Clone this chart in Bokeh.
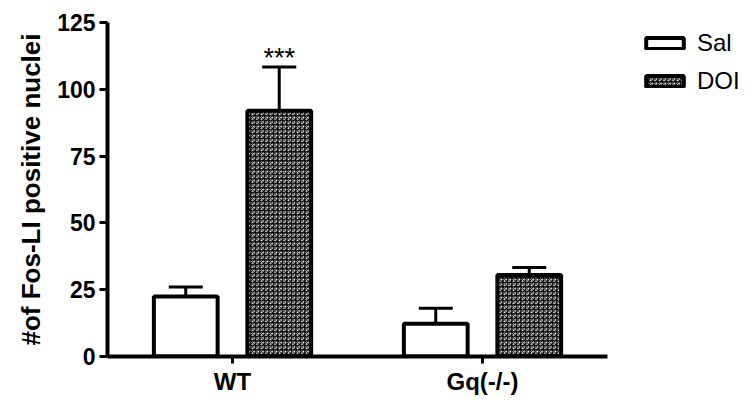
from bokeh.plotting import figure
from bokeh.models import (FactorRange, ColumnDataSource, Whisker, TeeHead, Legend, LegendItem,
                          FixedTicker)
from bokeh.transform import dodge
from bokeh.core.properties import value
from bokeh.embed import file_html
from bokeh.resources import INLINE

groups = ["WT", "Gq(-/-)"]
sal_mean = [22.5, 12.3]
sal_err = [3.5, 5.8]
doi_mean = [92.0, 30.5]
doi_err = [16.3, 2.8]
sig_labels = ["***", ""]

FONT = "Liberation Sans"

src = ColumnDataSource(dict(
    g=groups,
    sal=sal_mean, sal_up=[m + e for m, e in zip(sal_mean, sal_err)],
    doi=doi_mean, doi_up=[m + e for m, e in zip(doi_mean, doi_err)],
    sig=sig_labels,
))

p = figure(x_range=FactorRange(*groups, range_padding=0), y_range=(0, 125),
           frame_width=500, frame_height=334, min_border_left=107, min_border_top=22,
           min_border_bottom=30, min_border_right=10,
           output_backend="svg", toolbar_location=None)
p.x_range.range_padding = 0
p.xgrid.visible = False
p.ygrid.visible = False
p.outline_line_color = None

OFF = 0.187
W = 0.255
r_sal = p.vbar(x=dodge("g", -OFF, range=p.x_range), top="sal", width=W, bottom=0, source=src,
               fill_color="white", line_color="black", line_width=4)
r_doi = p.vbar(x=dodge("g", OFF, range=p.x_range), top="doi", width=W, bottom=0, source=src,
               fill_color="white", line_color="black", line_width=4,
               hatch_pattern="criss_cross", hatch_color="black", hatch_scale=4.5, hatch_weight=1.0)

for lo, up, off in (("sal", "sal_up", -OFF), ("doi", "doi_up", OFF)):
    wk = Whisker(base=dodge("g", off, range=p.x_range), lower=lo, upper=up, source=src,
                 line_width=3, line_color="black",
                 upper_head=TeeHead(size=34, line_width=3, line_color="black"),
                 lower_head=None, level="underlay")
    p.add_layout(wk)

p.text(x=dodge("g", OFF, range=p.x_range), y="doi_up", text="sig", source=src,
       text_font=value(FONT), text_font_size="27px", text_align="center",
       text_baseline="bottom", y_offset=6, text_color="black")

# axes
p.yaxis.ticker = FixedTicker(ticks=[0, 25, 50, 75, 100, 125])
p.yaxis.minor_tick_line_color = None
p.yaxis.axis_line_width = 4
p.yaxis.major_tick_line_width = 3
p.yaxis.major_tick_out = 8
p.yaxis.major_tick_in = 0
p.yaxis.major_label_text_font = FONT
p.yaxis.major_label_text_font_style = "bold"
p.yaxis.major_label_text_font_size = "23px"
p.yaxis.major_label_text_color = "black"
p.yaxis.major_label_standoff = 4
p.yaxis.axis_label = "#of Fos-LI positive nuclei"
p.yaxis.axis_label_text_font = FONT
p.yaxis.axis_label_text_font_style = "bold"
p.yaxis.axis_label_text_font_size = "26px"
p.yaxis.axis_label_text_color = "black"
p.yaxis.axis_label_standoff = 8

p.xaxis.axis_line_width = 4
p.xaxis.major_tick_line_width = 3
p.xaxis.major_tick_out = 7
p.xaxis.major_tick_in = 0
p.xaxis.major_label_text_font = FONT
p.xaxis.major_label_text_font_style = "bold"
p.xaxis.major_label_text_font_size = "24px"
p.xaxis.major_label_text_color = "black"
p.xaxis.major_label_standoff = 4

legend = Legend(items=[LegendItem(label="Sal", renderers=[r_sal]),
                       LegendItem(label="DOI", renderers=[r_doi])],
                location=(34, 261), glyph_width=47, glyph_height=14, spacing=10,
                label_text_font=FONT, label_text_font_size="24px", label_standoff=9,
                label_text_color="black",
                border_line_color=None, background_fill_alpha=0, margin=0, padding=0)
p.add_layout(legend, "right")

open("out.html", "w").write(file_html(p, INLINE))
